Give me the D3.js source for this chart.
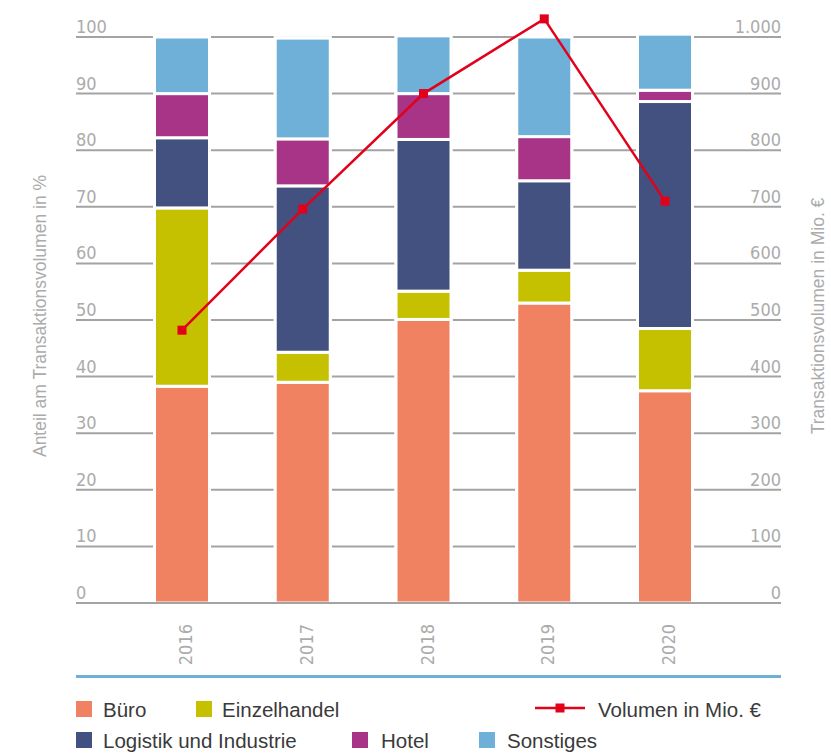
<!DOCTYPE html>
<html><head><meta charset="utf-8">
<script src="https://cdn.jsdelivr.net/npm/d3@7"></script>
<style>
html,body{margin:0;padding:0;background:#fff;}
svg{display:block;}
</style></head>
<body>
<svg id="chart" width="831" height="755"></svg>
<script>
// ---- data ----
const years = ["2016", "2017", "2018", "2019", "2020"];
const buero = [38.3, 39.0, 50.1, 53.0, 37.5];
const einzelhandel = [31.5, 5.3, 5.0, 5.8, 11.0];
const logistik = [12.4, 29.4, 26.8, 15.8, 40.1];
const hotel = [7.8, 8.3, 8.1, 7.8, 2.0];
const sonstiges = [10.0, 17.8, 10.2, 17.6, 9.9];
const volumen = [482, 696, 900, 1032, 710];
const seriesNames = ["Büro", "Einzelhandel", "Logistik und Industrie", "Hotel", "Sonstiges"];
const leftTicks = [0, 10, 20, 30, 40, 50, 60, 70, 80, 90, 100];
const rightTicks = [0, 100, 200, 300, 400, 500, 600, 700, 800, 900, 1000];
const lineName = "Volumen in Mio. €";
const leftTitle = "Anteil am Transaktionsvolumen in %";
const rightTitle = "Transaktionsvolumen in Mio. €";

// ---- styles ----
const colors = ["#f08262", "#c5c000", "#42517f", "#a83487", "#6eb0d7"];
const lineColor = "#e2001a";
const gridColor = "#a3a3a3";
const tickColor = "#ababab";
const textColor = "#3a3a3a";
const narrow = "'Liberation Sans Narrow','DejaVu Sans Condensed',sans-serif";
const regular = "'Liberation Sans',Arial,sans-serif";

const svg = d3.select("#chart");
const gridX0 = 76, gridX1 = 781;
const y = d3.scaleLinear().domain([0, 100]).range([603, 37]);
const y2 = d3.scaleLinear().domain([0, 1000]).range([603, 37]);
const x = d3.scalePoint().domain(years).range([182, 665]);
const barW = 55;

const de = d3.formatLocale({decimal: ",", thousands: ".", grouping: [3], currency: ["", " €"]});
const fmtR = de.format(",d");

// gridlines
svg.append("g").selectAll("line").data(leftTicks).join("line")
  .attr("x1", gridX0).attr("x2", gridX1)
  .attr("y1", d => y(d)).attr("y2", d => y(d))
  .attr("stroke", gridColor).attr("stroke-width", 2);

// left tick labels
svg.append("g").selectAll("text").data(leftTicks).join("text")
  .attr("x", gridX0).attr("y", d => y(d) - 4)
  .attr("font-family", narrow).attr("font-size", 18)
  .attr("fill", tickColor).text(d => d);

// right tick labels
svg.append("g").selectAll("text").data(rightTicks).join("text")
  .attr("x", gridX1).attr("y", d => y2(d) - 4)
  .attr("text-anchor", "end")
  .attr("font-family", narrow).attr("font-size", 18)
  .attr("fill", tickColor).text(d => fmtR(d));

// stacked data
const table = years.map((yr, i) => ({
  year: yr,
  "Büro": buero[i], "Einzelhandel": einzelhandel[i],
  "Logistik und Industrie": logistik[i], "Hotel": hotel[i], "Sonstiges": sonstiges[i]
}));
const stacked = d3.stack().keys(seriesNames)(table);

// white backing behind bars (cuts gridlines)
svg.append("g").selectAll("rect").data(table).join("rect")
  .attr("x", d => x(d.year) - barW / 2 - 1.5)
  .attr("width", barW + 3)
  .attr("y", d => y(d3.sum(seriesNames, k => d[k])) - 2)
  .attr("height", d => y(0) - y(d3.sum(seriesNames, k => d[k])) + 1)
  .attr("fill", "#fff");

svg.append("g").selectAll("g").data(stacked).join("g")
  .attr("fill", (d, i) => colors[i])
  .selectAll("rect").data(d => d).join("rect")
  .attr("x", d => x(d.data.year) - barW / 2)
  .attr("width", barW)
  .attr("y", d => y(d[1]))
  .attr("height", d => y(d[0]) - y(d[1]))
  .attr("stroke", "#fff").attr("stroke-width", 3);

// zero axis line
svg.append("line").attr("x1", gridX0).attr("x2", gridX1)
  .attr("y1", y(0)).attr("y2", y(0))
  .attr("stroke", gridColor).attr("stroke-width", 2);

// volume line
const lineGen = d3.line().x((d, i) => x(years[i])).y(d => y2(d));
svg.append("path").datum(volumen).attr("d", lineGen)
  .attr("fill", "none").attr("stroke", lineColor).attr("stroke-width", 2.5);
svg.append("g").selectAll("rect").data(volumen).join("rect")
  .attr("x", (d, i) => x(years[i]) - 4.5).attr("y", d => y2(d) - 4.5)
  .attr("width", 9).attr("height", 9).attr("fill", lineColor);

// year labels
svg.append("g").selectAll("text").data(years).join("text")
  .attr("transform", d => `translate(${x(d) + 10},624) rotate(-90)`)
  .attr("text-anchor", "end")
  .attr("font-family", narrow).attr("font-size", 18)
  .attr("fill", tickColor).text(d => d);

// axis titles
svg.append("text").attr("transform", "translate(46,316) rotate(-90)")
  .attr("text-anchor", "middle").attr("font-family", regular).attr("font-size", 17.5)
  .attr("fill", tickColor).text(leftTitle);
svg.append("text").attr("transform", "translate(824,316) rotate(-90)")
  .attr("text-anchor", "middle").attr("font-family", regular).attr("font-size", 17.5)
  .attr("fill", tickColor).text(rightTitle);

// blue separator
svg.append("line").attr("x1", gridX0).attr("x2", gridX1)
  .attr("y1", 676.5).attr("y2", 676.5)
  .attr("stroke", "#6eb0d7").attr("stroke-width", 3);

// legend
const legendItems = [
  {name: seriesNames[0], color: colors[0], sx: 76, tx: 103, base: 717},
  {name: seriesNames[1], color: colors[1], sx: 196, tx: 222, base: 717},
  {name: seriesNames[2], color: colors[2], sx: 76, tx: 103, base: 748},
  {name: seriesNames[3], color: colors[3], sx: 352, tx: 381, base: 748},
  {name: seriesNames[4], color: colors[4], sx: 479, tx: 507, base: 748}
];
const lg = svg.append("g");
lg.selectAll("rect").data(legendItems).join("rect")
  .attr("x", d => d.sx).attr("y", d => d.base - 16)
  .attr("width", 16).attr("height", 16).attr("fill", d => d.color);
lg.selectAll("text").data(legendItems).join("text")
  .attr("x", d => d.tx).attr("y", d => d.base)
  .attr("font-family", regular).attr("font-size", 20.5)
  .attr("fill", textColor).text(d => d.name);
lg.append("line").attr("x1", 535).attr("x2", 585).attr("y1", 708).attr("y2", 708)
  .attr("stroke", lineColor).attr("stroke-width", 2.5);
lg.append("rect").attr("x", 555.5).attr("y", 703.5).attr("width", 9).attr("height", 9)
  .attr("fill", lineColor);
lg.append("text").attr("x", 598).attr("y", 717)
  .attr("font-family", regular).attr("font-size", 20.5)
  .attr("fill", textColor).text(lineName);
</script>
</body></html>
